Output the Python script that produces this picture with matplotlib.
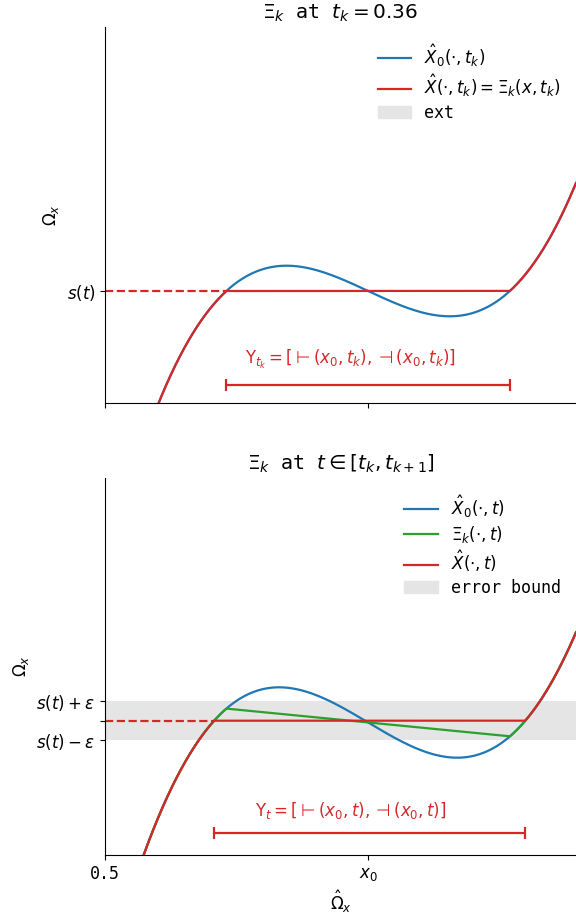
import numpy as np
import matplotlib
matplotlib.use("Agg")
import matplotlib.pyplot as plt
from matplotlib.patches import Patch

plt.rcParams['font.family'] = 'DejaVu Sans Mono'
plt.rcParams['mathtext.fontset'] = 'dejavusans'
plt.rcParams['font.size'] = 12

# shared x axis
x_left = 0.5
x_right = 1.395
x0 = 1.0
x_ticks = [x_left, x0]
x_ticklabels = ['0.5', '$x_0$']

# top panel, t = t_k
tk = 0.36
s_top = 0.0
top_ylim = (-1.12, 2.64)
top_center = 1.0
top_half = 0.155      # x distance from x0 to the hump
top_hump = 0.253      # hump height above s(t)
top_tail = -0.0006

# bottom panel, t in [t_k, t_k+1]
s_bot = 0.0
eps = 0.196
bot_ylim = (-1.343, 2.427)
bot_center = 1.0
bot_shift = -0.018
bot_half = 0.1692
bot_hump = 0.352
bot_tail = -0.00226

top_bar_y, top_text_y = -0.94, -0.68
bot_bar_y, bot_text_y = -1.123, -0.90
text_x = 0.967

blue, red, green, band = '#1f77b4', '#d62728', '#2ca02c', '#e5e5e5'


def profile(x, center, half, hump, tail, shift=0.0):
    v = (x - center) / half
    return shift + hump * (-1.5 * v + 0.5 * v**3) + tail * v * (v**2 - 1)**2


def outer_roots(center, half, hump, tail, shift, s):
    # where the profile crosses the level s (left and right of the hump)
    coeffs = [tail, 0, -2 * tail + 0.5 * hump, 0, tail - 1.5 * hump, shift - s]
    r = np.roots(coeffs)
    r = np.sort(r[np.abs(r.imag) < 1e-9].real)
    r = r[np.abs(r) < 2.2]
    return center + half * r[0], center + half * r[-1]


fig = plt.figure(figsize=(5.76, 9.18), dpi=100)
ax1 = fig.add_axes([105 / 576, 1 - 403 / 918, 1 - 105 / 576, 376 / 918])
ax2 = fig.add_axes([105 / 576, 1 - 855 / 918, 1 - 105 / 576, 377 / 918])

# ---------- top ----------
xl_k, xr_k = outer_roots(top_center, top_half, top_hump, top_tail, 0.0, s_top)
x = np.sort(np.concatenate([np.linspace(x_left, x_right, 800), [xl_k, xr_k]]))
X0_k = profile(x, top_center, top_half, top_hump, top_tail)
inside = (x >= xl_k) & (x <= xr_k)
Xhat_k = np.where(inside, s_top, X0_k)

ax1.plot(x, X0_k, color=blue, lw=1.6, label=r'$\hat{X}_0(\cdot, t_k)$')
ax1.plot(x, Xhat_k, color=red, lw=1.6, label=r'$\hat{X}(\cdot, t_k) = \Xi_k(x, t_k)$')
ax1.plot([x_left, xl_k], [s_top, s_top], '--', color=red, lw=1.6)
ax1.errorbar((xl_k + xr_k) / 2, top_bar_y, xerr=(xr_k - xl_k) / 2, color=red,
             lw=1.6, capsize=4, capthick=1.6)
ax1.text(text_x, top_text_y,
         r'$\Upsilon_{t_k} = [\vdash(x_0, t_k), \dashv(x_0, t_k)]$',
         color=red, ha='center', va='center', fontsize=12)

h, l = ax1.get_legend_handles_labels()
h.append(Patch(color=band, label='ext'))
l.append('ext')
ax1.legend(h, l, loc='upper right', frameon=False, labelspacing=0.25)
ax1.set_title(f'$\\Xi_k$ at $t_k = {tk}$')
ax1.set_xlim(x_left, x_right)
ax1.set_ylim(*top_ylim)
ax1.set_xticks(x_ticks)
ax1.set_xticklabels(['', ''])
ax1.set_yticks([s_top])
ax1.set_yticklabels(['$s(t)$'])
ax1.set_ylabel(r'$\Omega_x$')

# ---------- bottom ----------
xl_t, xr_t = outer_roots(bot_center, bot_half, bot_hump, bot_tail, bot_shift, s_bot)
x = np.sort(np.concatenate([np.linspace(x_left, x_right, 800),
                            [xl_k, xr_k, xl_t, xr_t]]))
X0_t = profile(x, bot_center, bot_half, bot_hump, bot_tail, bot_shift)
y_l = profile(xl_k, bot_center, bot_half, bot_hump, bot_tail, bot_shift)
y_r = profile(xr_k, bot_center, bot_half, bot_hump, bot_tail, bot_shift)
in_k = (x >= xl_k) & (x <= xr_k)
Xi_t = np.where(in_k, y_l + (x - xl_k) * (y_r - y_l) / (xr_k - xl_k), X0_t)
in_t = (x >= xl_t) & (x <= xr_t)
Xhat_t = np.where(in_t, s_bot, X0_t)

ax2.axhspan(s_bot - eps, s_bot + eps, color=band, lw=0, zorder=0)
ax2.plot(x, X0_t, color=blue, lw=1.6, label=r'$\hat{X}_0(\cdot, t)$')
ax2.plot(x, Xi_t, color=green, lw=1.6, label=r'$\Xi_k(\cdot, t)$')
ax2.plot(x, Xhat_t, color=red, lw=1.6, label=r'$\hat{X}(\cdot, t)$')
ax2.plot([x_left, xl_t], [s_bot, s_bot], '--', color=red, lw=1.6)
ax2.errorbar((xl_t + xr_t) / 2, bot_bar_y, xerr=(xr_t - xl_t) / 2, color=red,
             lw=1.6, capsize=4, capthick=1.6)
ax2.text(text_x, bot_text_y,
         r'$\Upsilon_{t} = [\vdash(x_0, t), \dashv(x_0, t)]$',
         color=red, ha='center', va='center', fontsize=12)

h, l = ax2.get_legend_handles_labels()
h.append(Patch(color=band, label='error bound'))
l.append('error bound')
ax2.legend(h, l, loc='upper right', frameon=False, labelspacing=0.25)
ax2.set_title(r'$\Xi_k$ at $t \in [t_k, t_{k+1}]$')
ax2.set_xlim(x_left, x_right)
ax2.set_ylim(*bot_ylim)
ax2.set_xticks(x_ticks)
ax2.set_xticklabels(x_ticklabels)
ax2.set_yticks([s_bot - eps, s_bot, s_bot + eps])
ax2.set_yticklabels([r'$s(t) - \varepsilon$', '', r'$s(t) + \varepsilon$'])
ax2.set_ylabel(r'$\Omega_x$')
ax2.set_xlabel(r'$\hat{\Omega}_x$')

for ax in (ax1, ax2):
    ax.spines['top'].set_visible(False)
    ax.spines['right'].set_visible(False)

fig.savefig('out.png', dpi=100)
